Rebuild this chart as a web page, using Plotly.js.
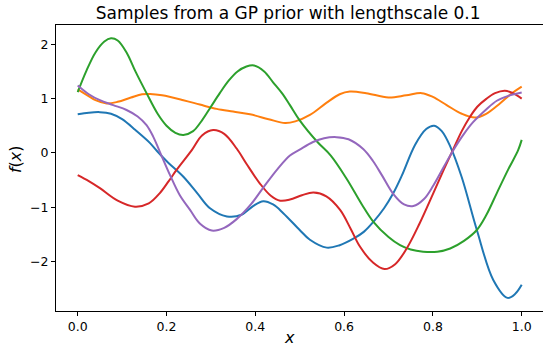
<!DOCTYPE html>
<html>
<head>
<meta charset="utf-8">
<script src="https://cdn.plot.ly/plotly-3.0.1.min.js"></script>
<style>html,body{margin:0;padding:0;background:#fff;}</style>
</head>
<body>
<div id="chart" style="width:543px;height:348px;"></div>
<script>
// Sample 1 (blue)
const blueX = [0, 0.025, 0.05, 0.075, 0.1, 0.13, 0.163, 0.178, 0.2, 0.238, 0.27, 0.298, 0.336, 0.369, 0.395, 0.418, 0.44, 0.463, 0.5, 0.523, 0.561, 0.59, 0.621, 0.645, 0.666, 0.69, 0.711, 0.73, 0.76, 0.785, 0.803, 0.82, 0.839, 0.865, 0.899, 0.936, 0.968, 0.985, 1.0];
const blueY = [0.71, 0.74, 0.75, 0.72, 0.62, 0.42, 0.18, 0.04, -0.15, -0.44, -0.75, -1.02, -1.17, -1.14, -0.98, -0.89, -0.95, -1.11, -1.42, -1.60, -1.745, -1.70, -1.58, -1.45, -1.27, -1.02, -0.74, -0.42, 0.15, 0.44, 0.50, 0.40, 0.12, -0.45, -1.42, -2.34, -2.67, -2.6, -2.43];
// Sample 2 (orange)
const orangeX = [0, 0.02, 0.04, 0.065, 0.09, 0.12, 0.145, 0.163, 0.19, 0.238, 0.275, 0.313, 0.35, 0.388, 0.43, 0.467, 0.49, 0.523, 0.56, 0.59, 0.613, 0.65, 0.7, 0.74, 0.775, 0.8, 0.831, 0.865, 0.895, 0.92, 0.951, 0.975, 1.0];
const orangeY = [1.17, 1.07, 0.97, 0.91, 0.94, 1.02, 1.08, 1.085, 1.06, 0.97, 0.89, 0.81, 0.76, 0.71, 0.62, 0.55, 0.58, 0.70, 0.92, 1.08, 1.13, 1.10, 1.02, 1.06, 1.10, 1.03, 0.88, 0.72, 0.65, 0.72, 0.91, 1.08, 1.22];
// Sample 3 (green)
const greenX = [0, 0.02, 0.04, 0.06, 0.075, 0.09, 0.11, 0.13, 0.155, 0.18, 0.2, 0.22, 0.238, 0.26, 0.28, 0.3, 0.32, 0.34, 0.36, 0.38, 0.397, 0.42, 0.44, 0.46, 0.478, 0.5, 0.54, 0.57, 0.606, 0.64, 0.666, 0.7, 0.726, 0.75, 0.778, 0.81, 0.839, 0.87, 0.899, 0.92, 0.944, 0.97, 0.992, 1.0];
const greenY = [1.12, 1.52, 1.85, 2.05, 2.11, 2.07, 1.85, 1.5, 1.10, 0.72, 0.5, 0.37, 0.33, 0.4, 0.6, 0.85, 1.1, 1.33, 1.5, 1.59, 1.61, 1.5, 1.3, 1.1, 0.88, 0.6, 0.2, -0.05, -0.48, -0.95, -1.27, -1.55, -1.70, -1.78, -1.82, -1.82, -1.76, -1.62, -1.42, -1.15, -0.74, -0.3, 0.05, 0.24];
// Sample 4 (red)
const redX = [0, 0.025, 0.05, 0.09, 0.129, 0.16, 0.185, 0.205, 0.223, 0.257, 0.28, 0.305, 0.33, 0.358, 0.38, 0.41, 0.435, 0.456, 0.478, 0.505, 0.531, 0.56, 0.591, 0.615, 0.636, 0.665, 0.691, 0.715, 0.741, 0.77, 0.801, 0.825, 0.846, 0.865, 0.884, 0.9, 0.921, 0.94, 0.962, 0.98, 1.0];
const redY = [-0.41, -0.52, -0.65, -0.88, -0.99, -0.93, -0.74, -0.52, -0.31, 0.05, 0.32, 0.42, 0.35, 0.08, -0.2, -0.56, -0.79, -0.88, -0.86, -0.78, -0.73, -0.8, -1.05, -1.4, -1.73, -2.02, -2.14, -2.05, -1.76, -1.3, -0.74, -0.3, 0.07, 0.4, 0.67, 0.85, 1.0, 1.1, 1.145, 1.1, 1.0];
// Sample 5 (purple)
const purpleX = [0, 0.025, 0.05, 0.08, 0.11, 0.135, 0.155, 0.17, 0.185, 0.208, 0.23, 0.253, 0.275, 0.302, 0.33, 0.358, 0.39, 0.418, 0.45, 0.478, 0.5, 0.53, 0.555, 0.583, 0.61, 0.643, 0.665, 0.685, 0.711, 0.735, 0.756, 0.78, 0.801, 0.825, 0.846, 0.87, 0.891, 0.92, 0.944, 0.97, 1.0];
const purpleY = [1.24, 1.08, 0.97, 0.88, 0.79, 0.67, 0.51, 0.3, 0.02, -0.41, -0.78, -1.05, -1.3, -1.43, -1.38, -1.22, -0.95, -0.64, -0.3, -0.05, 0.06, 0.2, 0.27, 0.29, 0.25, 0.07, -0.15, -0.41, -0.76, -0.95, -0.98, -0.85, -0.6, -0.25, 0.05, 0.35, 0.57, 0.8, 0.96, 1.05, 1.11];

const xTicks = [0, 0.2, 0.4, 0.6, 0.8, 1.0];
const xTickText = ["0.0", "0.2", "0.4", "0.6", "0.8", "1.0"];
const yTicks = [-2, -1, 0, 1, 2];
const titleText = "Samples from a GP prior with lengthscale 0.1";

const series = [
  [blueX, blueY, "#1f77b4"],
  [orangeX, orangeY, "#ff7f0e"],
  [greenX, greenY, "#2ca02c"],
  [redX, redY, "#d62728"],
  [purpleX, purpleY, "#9467bd"]
];
const traces = series.map(s => ({
  x: s[0], y: s[1], type: "scatter", mode: "lines",
  line: {color: s[2], width: 2, shape: "spline", smoothing: 1},
  hoverinfo: "skip", showlegend: false
}));

const layout = {
  width: 543, height: 348, autosize: false,
  margin: {l: 56, r: 0, t: 25, b: 37, pad: 0},
  paper_bgcolor: "#fff", plot_bgcolor: "#fff",
  showlegend: false,
  font: {family: "DejaVu Sans", size: 12.5, color: "#000"},
  title: {text: titleText, font: {family: "DejaVu Sans", size: 17, color: "#000"},
          xref: "paper", x: 0.4767, xanchor: "center", yref: "container", y: 0.962, yanchor: "middle"},
  xaxis: {range: [-0.0489, 1.048], tickvals: xTicks, ticktext: xTickText,
          showgrid: false, zeroline: false, showline: true, mirror: true, linecolor: "#000", linewidth: 1,
          ticks: "outside", ticklen: 4, tickwidth: 1, tickcolor: "#000",
          tickfont: {family: "DejaVu Sans", size: 12.5, color: "#000"}},
  yaxis: {range: [-2.912, 2.355], tickvals: yTicks,
          showgrid: false, zeroline: false, showline: true, mirror: false, linecolor: "#000", linewidth: 1,
          ticks: "outside", ticklen: 4, tickwidth: 1, tickcolor: "#000",
          tickfont: {family: "DejaVu Sans", size: 12.5, color: "#000"}},
  annotations: [
    {text: "<i>x</i>", xref: "paper", yref: "paper", x: 0.4788, y: -0.1294, xanchor: "center", yanchor: "bottom",
     borderpad: 0, showarrow: false, font: {family: "DejaVu Sans", size: 16, color: "#000"}},
    {text: "<i>f</i>(<i>x</i>)", xref: "paper", yref: "paper", x: -0.0835, y: 0.5325, xanchor: "center", yanchor: "middle",
     textangle: -90, showarrow: false, font: {family: "DejaVu Sans", size: 16, color: "#000"}}
  ]
};
Plotly.newPlot("chart", traces, layout, {displayModeBar: false, staticPlot: true});
</script>
</body>
</html>
